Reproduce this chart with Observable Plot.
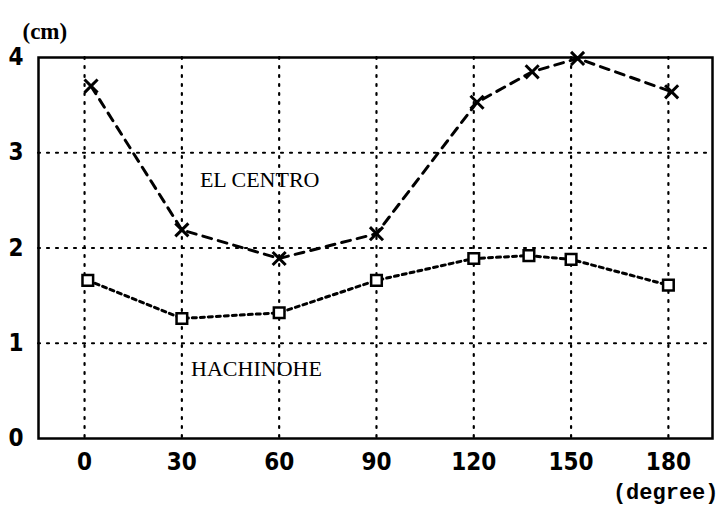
<!DOCTYPE html>
<html><head><meta charset="utf-8">
<script src="https://cdn.jsdelivr.net/npm/d3@7"></script>
<script src="https://cdn.jsdelivr.net/npm/@observablehq/plot@0.6"></script>
<style>body{margin:0;background:#fff}</style>
</head><body><div id="chart"></div>
<script>
const xTicks = [0, 30, 60, 90, 120, 150, 180];
const yTicks = [0, 1, 2, 3, 4];
const yGrid = [1, 2, 3];
const elCentroDeg = [2, 30, 60, 90, 121, 138, 152, 181];
const elCentroCm = [3.70, 2.19, 1.89, 2.15, 3.53, 3.85, 3.99, 3.64];
const hachinoheDeg = [1, 30, 60, 90, 120, 137, 150, 180];
const hachinoheCm = [1.66, 1.26, 1.32, 1.66, 1.89, 1.92, 1.88, 1.61];
const seriesLabels = ["EL CENTRO", "HACHINOHE"];
const labelDeg = [54, 53];
const labelCm = [2.71, 0.73];
const yUnit = "(cm)";
const xUnit = "(degree)";

const elCentro = elCentroDeg.map((d, i) => ({deg: d, cm: elCentroCm[i]}));
const hachinohe = hachinoheDeg.map((d, i) => ({deg: d, cm: hachinoheCm[i]}));
const labels = seriesLabels.map((s, i) => ({name: s, deg: labelDeg[i], cm: labelCm[i]}));

const tickFont = "'Liberation Sans Narrow','DejaVu Sans Condensed','Liberation Sans',sans-serif";

const chart = Plot.plot({
  width: 720,
  height: 518,
  marginLeft: 38,
  marginRight: 8,
  marginTop: 57,
  marginBottom: 80,
  style: {background: "#fff", color: "#000"},
  x: {domain: [-14.2, 193.6]},
  y: {domain: [0, 4]},
  marks: [
    Plot.gridX(xTicks, {stroke: "#000", strokeOpacity: 1, strokeWidth: 2.2, strokeDasharray: "2,7", strokeLinecap: "round"}),
    Plot.gridY(yGrid, {stroke: "#000", strokeOpacity: 1, strokeWidth: 2.2, strokeDasharray: "2,7", strokeLinecap: "round"}),
    Plot.frame({stroke: "#000", strokeWidth: 2.5}),
    Plot.axisX(xTicks, {tickSize: 0, tickPadding: 14, fontSize: 24, fontFamily: tickFont, fontWeight: "bold", label: null, tickFormat: d3.format("d")}),
    Plot.axisY(yTicks, {tickSize: 0, tickPadding: 15, fontSize: 24, fontFamily: tickFont, fontWeight: "bold", label: null, tickFormat: d3.format("d")}),
    Plot.line(elCentro, {x: "deg", y: "cm", stroke: "#000", strokeWidth: 3, strokeDasharray: "9,7"}),
    Plot.line(hachinohe, {x: "deg", y: "cm", stroke: "#000", strokeWidth: 3, strokeDasharray: "4,4"}),
    Plot.dot(elCentro, {x: "deg", y: "cm", symbol: "times", r: 6, stroke: "#000", strokeWidth: 3}),
    Plot.dot(hachinohe, {x: "deg", y: "cm", symbol: "square", r: 6, stroke: "#000", strokeWidth: 2.5, fill: "#fff"}),
    Plot.text(labels, {x: "deg", y: "cm", text: "name", fontSize: 22, fontFamily: "'Liberation Serif',serif", fill: "#000"}),
    Plot.text([yUnit], {frameAnchor: "top-left", dx: -16, dy: -35, textAnchor: "start", fontSize: 23, fontWeight: "bold", fontFamily: "'Liberation Serif',serif", fill: "#000"}),
    Plot.text([xUnit], {frameAnchor: "bottom-right", dx: 6, dy: 60, textAnchor: "end", fontSize: 22, fontWeight: "bold", fontFamily: "'Liberation Mono',monospace", fill: "#000"})
  ]
});
document.getElementById("chart").appendChild(chart);
</script>
</body></html>
